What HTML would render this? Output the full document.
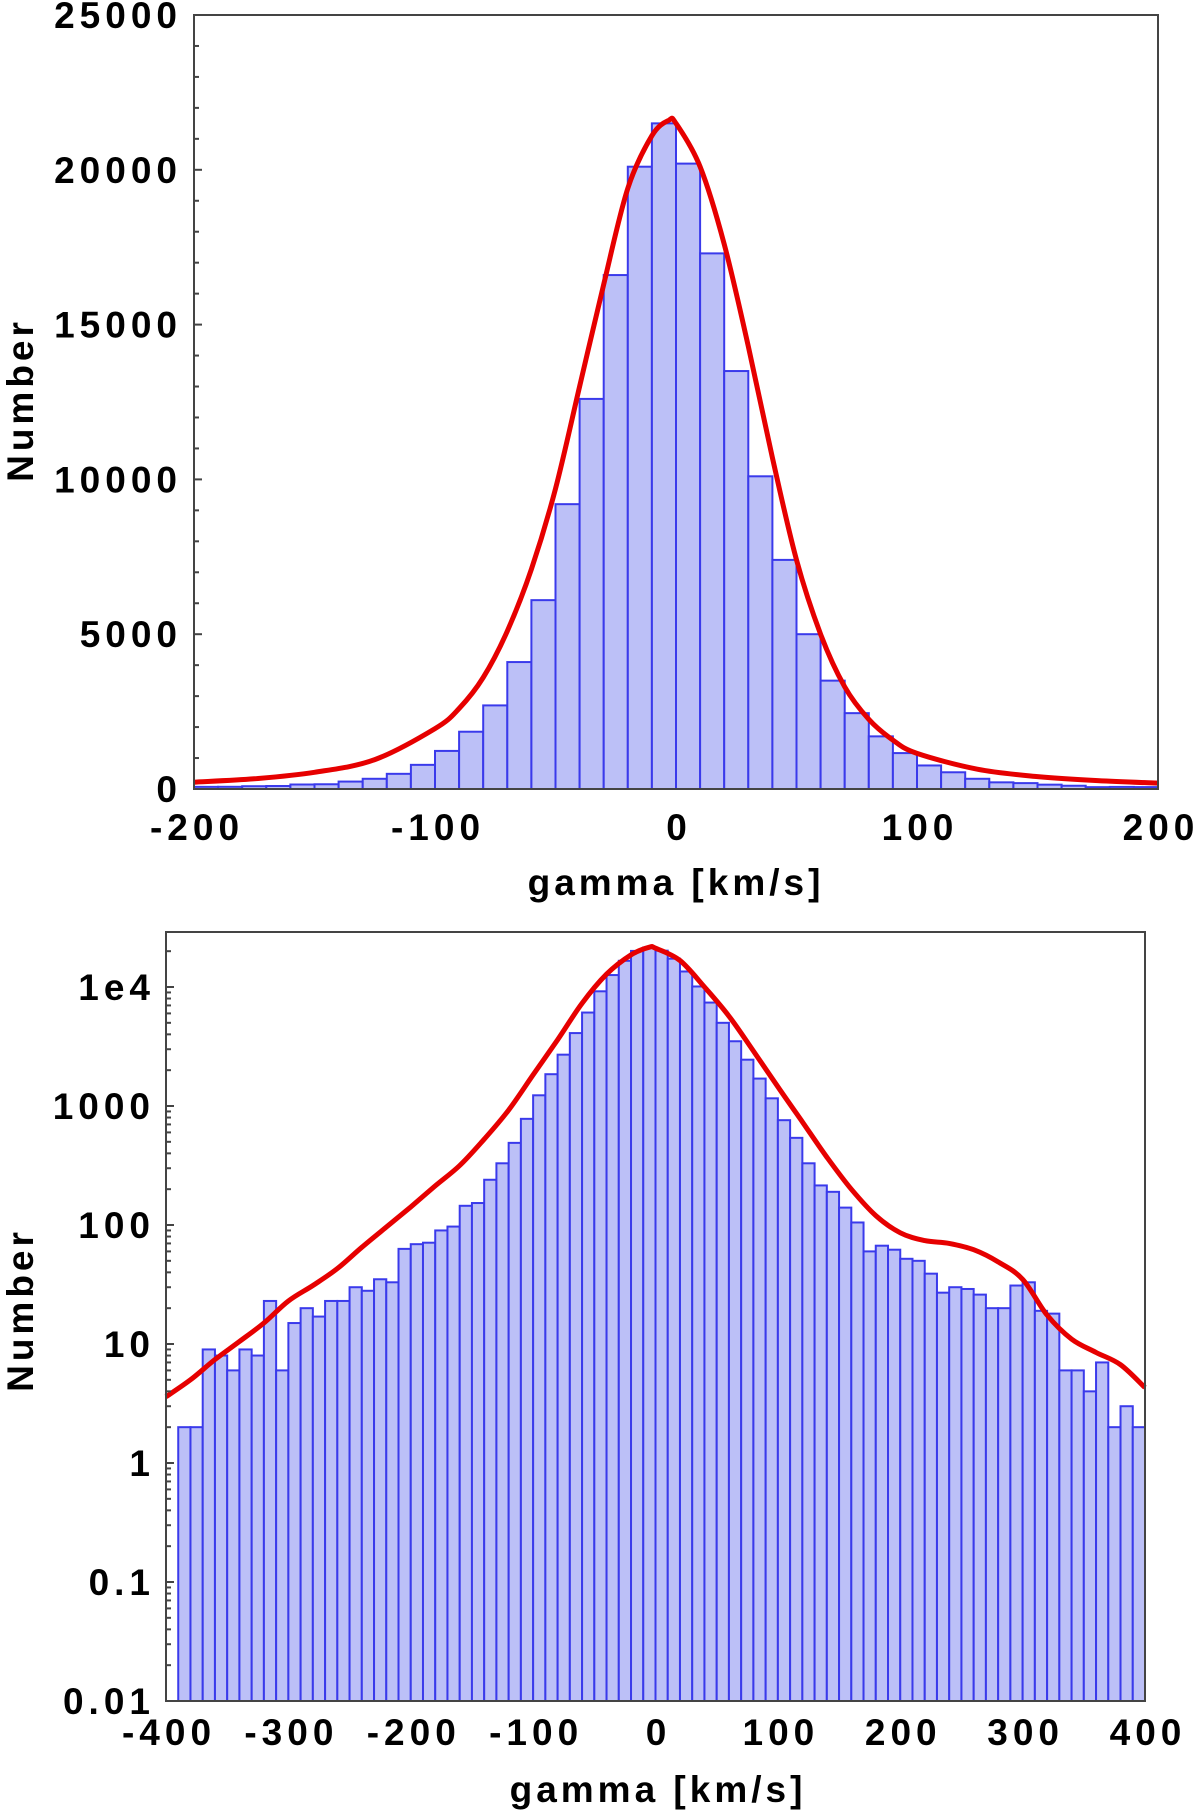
<!DOCTYPE html>
<html><head><meta charset="utf-8"><style>
html,body{margin:0;padding:0;background:#fff;}
svg{display:block;}
text{font-family:"Liberation Sans",Arial,sans-serif;font-weight:bold;fill:#000;}
</style></head><body>
<svg id="fig" width="1200" height="1813" viewBox="0 0 1200 1813" xmlns="http://www.w3.org/2000/svg"></svg>
<script>
// bin left edges (km/s) and counts, 10 km/s bins
const binStarts = [-390,-380,-370,-360,-350,-340,-330,-320,-310,-300,-290,-280,-270,-260,-250,-240,-230,-220,-210,-200,-190,-180,-170,-160,-150,-140,-130,-120,-110,-100,-90,-80,-70,-60,-50,-40,-30,-20,-10,0,10,20,30,40,50,60,70,80,90,100,110,120,130,140,150,160,170,180,190,200,210,220,230,240,250,260,270,280,290,300,310,320,330,340,350,360,370,380,390];
const counts = [2,2,9,8,6,9,8,23,6,15,20,17,23,23,30,28,35,33,63,69,71,90,97,145,153,240,330,490,780,1230,1850,2700,4100,6100,9200,12600,16600,20100,21500,20200,17300,13500,10100,7400,5000,3500,2450,1700,1160,760,540,330,215,190,140,105,60,67,62,52,50,39,27,30,29,26,20,20,31,33,19,18,6,6,4,7,2,3,2];
const binWidth = 10;
// fitted curve, linear panel
const fitLinX = [-200,-175,-150,-125,-100,-90,-80,-70,-60,-50,-40,-30,-20,-10,-3,0,10,20,30,40,50,60,70,80,90,100,125,150,175,200];
const fitLinY = [220,330,540,950,1950,2600,3600,5100,7100,9700,13000,16300,19400,21100,21600,21500,20100,17600,14300,10700,7400,5000,3300,2250,1580,1150,640,400,270,190];
// fitted curve, log panel
const fitLogX = [-400,-380,-360,-340,-320,-300,-280,-260,-240,-220,-200,-180,-160,-140,-120,-100,-80,-60,-40,-20,-5,0,20,40,60,80,100,120,140,160,180,200,220,240,260,280,300,320,340,360,380,400];
const fitLogY = [3.6,5,7.4,10.5,15,23,31,43,65,96,142,213,316,526,924,1830,3600,7300,12800,18600,21600,21200,16700,10000,5700,2900,1450,735,372,200,120,86,74,70,62,49,35,17.5,11,8.5,6.7,4.3];
const linTicks = [0,5000,10000,15000,20000,25000];
const linXTicks = [-200,-100,0,100,200];
const logTicks = [0.01,0.1,1,10,100,1000,10000];
const logTickLabels = ["0.01","0.1","1","10","100","1000","1e4"];
const logXTicks = [-400,-300,-200,-100,0,100,200,300,400];

const NS="http://www.w3.org/2000/svg";
const svg=document.getElementById('fig');
function mk(tag,attrs,parent){const e=document.createElementNS(NS,tag);for(const k in attrs)e.setAttribute(k,attrs[k]);(parent||svg).appendChild(e);return e;}
function smooth(pts){
  let d='M'+pts[0][0].toFixed(1)+','+pts[0][1].toFixed(1);
  for(let i=0;i<pts.length-1;i++){
    const p0=pts[Math.max(0,i-1)],p1=pts[i],p2=pts[i+1],p3=pts[Math.min(pts.length-1,i+2)];
    const c1x=p1[0]+(p2[0]-p0[0])/6,c1y=p1[1]+(p2[1]-p0[1])/6;
    const c2x=p2[0]-(p3[0]-p1[0])/6,c2y=p2[1]-(p3[1]-p1[1])/6;
    d+='C'+c1x.toFixed(1)+','+c1y.toFixed(1)+' '+c2x.toFixed(1)+','+c2y.toFixed(1)+' '+p2[0].toFixed(1)+','+p2[1].toFixed(1);
  }
  return d;
}
const FS=37, LS=5;

// ---------- top panel ----------
const T={l:194,r:1158,t:15,b:789};
const tx=v=>T.l+(v+200)/400*(T.r-T.l);
const ty=v=>T.b-v/25000*(T.b-T.t);
const gTop=mk('g',{});


binStarts.forEach((s,i)=>{
  if(s<-200||s>=200)return;
  const r=mk('rect',{x:tx(s),y:ty(counts[i]),width:tx(s+binWidth)-tx(s),height:ty(0)-ty(counts[i]),fill:'#bcc0f7',stroke:'#3a3aeb','stroke-width':2},gTop);
  
  
});
const c1=mk('path',{d:smooth(fitLinX.map((x,i)=>[tx(x),ty(fitLinY[i])])),fill:'none',stroke:'#e60000','stroke-width':5,'stroke-linejoin':'round'},gTop);


const f1=mk('rect',{x:T.l,y:T.t,width:T.r-T.l,height:T.b-T.t,fill:'none',stroke:'#444','stroke-width':2},gTop);


for(let v=0;v<=25000;v+=1000){mk('line',{x1:T.l,x2:T.l+(v%5000===0?8:5),y1:ty(v),y2:ty(v),stroke:'#444','stroke-width':2},gTop);}
linTicks.forEach(v=>{
  const t=mk('text',{x:182,y:ty(v)+13,'text-anchor':'end','font-size':FS,'letter-spacing':LS},gTop);t.textContent=v;
  
  
});
linXTicks.forEach(v=>{
  const t=mk('text',{x:tx(v)+3,y:840,'text-anchor':'middle','font-size':FS,'letter-spacing':LS},gTop);t.textContent=v;
  
  
});
let at=mk('text',{x:676,y:895,'text-anchor':'middle','font-size':FS,'letter-spacing':4},gTop);at.textContent='gamma [km/s]';


at=mk('text',{x:0,y:0,'text-anchor':'middle','font-size':FS,'letter-spacing':4,transform:'translate(33,400) rotate(-90)'},gTop);at.textContent='Number';



// ---------- bottom panel ----------
const B={l:166,r:1145,t:932,b:1701};
const LMIN=-2,LMAX=4+(987-932)/((1701-987)/6);
const bx=v=>B.l+(v+400)/800*(B.r-B.l);
const by=v=>B.b-(Math.log10(v)-LMIN)/(LMAX-LMIN)*(B.b-B.t);
const gB=mk('g',{});


binStarts.forEach((s,i)=>{
  const r=mk('rect',{x:bx(s),y:by(counts[i]),width:bx(s+binWidth)-bx(s),height:B.b-by(counts[i]),fill:'#bcc0f7',stroke:'#3a3aeb','stroke-width':2},gB);
  
  
});
const c2=mk('path',{d:smooth(fitLogX.map((x,i)=>[bx(x),by(fitLogY[i])])),fill:'none',stroke:'#e60000','stroke-width':5,'stroke-linejoin':'round'},gB);


const f2=mk('rect',{x:B.l,y:B.t,width:B.r-B.l,height:B.b-B.t,fill:'none',stroke:'#444','stroke-width':2},gB);


for(let e=-2;e<=4;e++){for(let m=1;m<=9;m++){const v=m*Math.pow(10,e);if(by(v)<B.t)continue;
  mk('line',{x1:B.l,x2:B.l+(m===1?8:5),y1:by(v),y2:by(v),stroke:'#444','stroke-width':2},gB);}}
logTicks.forEach((v,i)=>{
  const t=mk('text',{x:155,y:by(v)+13,'text-anchor':'end','font-size':FS,'letter-spacing':LS},gB);t.textContent=logTickLabels[i];
  
  
});
logXTicks.forEach(v=>{
  const t=mk('text',{x:bx(v)+3,y:1745,'text-anchor':'middle','font-size':FS,'letter-spacing':LS},gB);t.textContent=v;
  
  
});
at=mk('text',{x:658,y:1802,'text-anchor':'middle','font-size':FS,'letter-spacing':4},gB);at.textContent='gamma [km/s]';


at=mk('text',{x:0,y:0,'text-anchor':'middle','font-size':FS,'letter-spacing':4,transform:'translate(33,1310) rotate(-90)'},gB);at.textContent='Number';


</script>
</body></html>
